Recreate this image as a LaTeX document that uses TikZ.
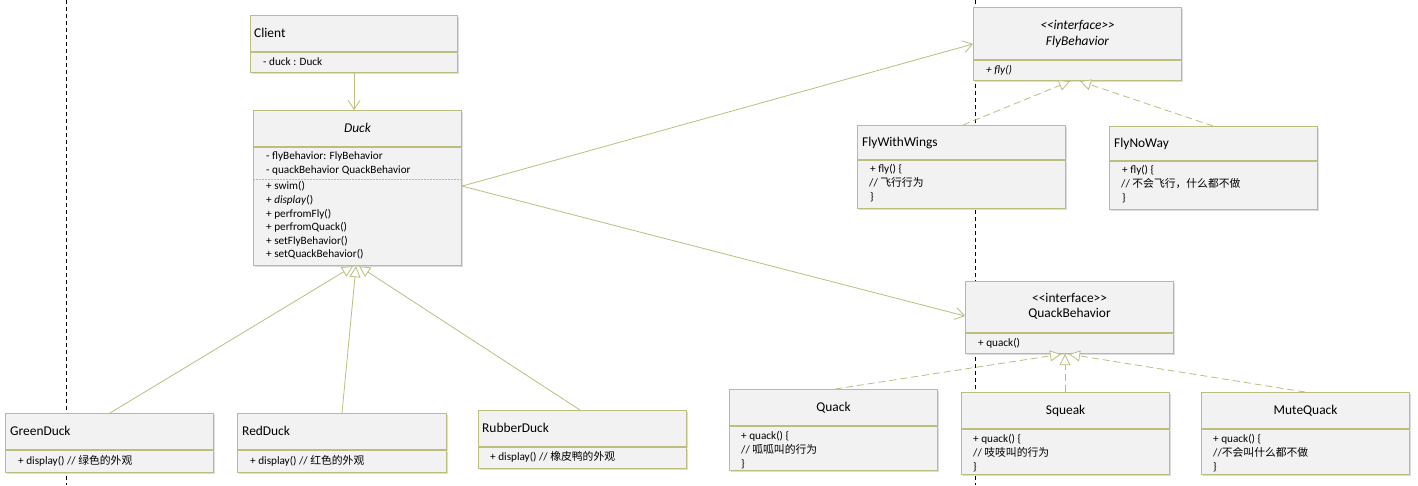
\documentclass[tikz,border=0pt]{standalone}
\usepackage{fontspec}
\setmainfont{Carlito}[Ligatures=TeXOff]
\newfontfamily\cjk{Noto Sans CJK SC}
\usetikzlibrary{arrows.meta,shadows,calc}
\definecolor{umlline}{RGB}{188,190,128}
\definecolor{umlfill}{RGB}{242,242,242}
\newcommand\hfont{\fontsize{13.4}{16}\selectfont}
\newcommand\bfont{\fontsize{11.2}{13.5}\selectfont}
\newcommand\zh[1]{{\cjk\fontsize{10.8}{13.5}\selectfont #1}}
\tikzset{
  umlbox/.style={draw=umlline, fill=umlfill, line width=1.1pt, inner sep=0pt, anchor=north west,
    drop shadow={shadow xshift=1.2pt, shadow yshift=-1.2pt, opacity=0.3, fill=black!45}},
  hdrtext/.style={inner sep=0pt, font=\hfont, text height=9.5pt, text depth=2.5pt},
  bodytext/.style={inner sep=0pt, font=\bfont, anchor=west, text height=8pt, text depth=2.5pt},
  assoc/.style={draw=umlline, line width=0.8pt, -{Straight Barb[length=9pt,width=12pt]}},
  inherit/.style={draw=umlline, line width=0.8pt, -{Triangle[open,length=11pt,width=11pt,fill=white]}},
  realize/.style={inherit, dash pattern=on 7pt off 4pt},
  lifeline/.style={draw=black, line width=0.6pt, dash pattern=on 4pt off 3pt},
  sepline/.style={draw=umlline, line width=0.6pt, dash pattern=on 1.5pt off 1.5pt},
}
% name, x, y, width, header height, body height
\newcommand\umlclass[6]{%
  \node[umlbox, minimum width=#4pt, minimum height=#5pt] (#1) at (#2,#3) {};
  \node[umlbox, minimum width=#4pt, minimum height=#6pt] (#1b) at (#1.south west) {};
}
\begin{document}
\begin{tikzpicture}[x=1pt,y=-1pt]
\fill[white] (0,0) rectangle (1418,485);
\useasboundingbox (0,0) rectangle (1418,485);

% life lines
\coordinate (l1t) at (66,0);
\coordinate (l1b) at (66,485);
\coordinate (l2t) at (975,0);
\coordinate (l2b) at (975,485);
\draw[lifeline] (l1t) -- (l1b);
\draw[lifeline] (l2t) -- (l2b);

% classes
\umlclass{client}{250}{15}{207}{36}{20}
\umlclass{duck}{253}{110}{208}{36}{118}
\umlclass{fly}{973}{7}{208}{52}{20}
\umlclass{fww}{857}{125}{208}{34}{48}
\umlclass{fnw}{1109}{126}{208}{34}{48}
\umlclass{qb}{965}{281}{208}{51}{20}
\umlclass{quack}{729}{389}{208}{36}{44}
\umlclass{squeak}{961}{392}{208}{36}{45}
\umlclass{mute}{1201}{392}{208}{36}{45}
\umlclass{gd}{5}{413}{208}{36}{22}
\umlclass{rd}{237}{413}{209}{36}{22}
\umlclass{rub}{478}{410}{208}{36}{21}

% Client
\node[hdrtext, anchor=west] (clientN) at ($(client.west)+(4,0)$) {Client};
\node[bodytext] (clientA) at ($(clientb.west)+(13,0)$) {- duck : Duck};

% Duck
\node[hdrtext] (duckN) at (duck.center) {\textit{Duck}};
\node[bodytext] (duckA1) at ($(duckb.north west)+(13,10)$) {- flyBehavior: FlyBehavior};
\node[bodytext] (duckA2) at ($(duckb.north west)+(13,23.5)$) {- quackBehavior QuackBehavior};
\draw[sepline] ($(duckb.north west)+(0,32)$) -- ($(duckb.north east)+(0,32)$);
\node[bodytext] (duckM1) at ($(duckb.north west)+(13,40)$) {+ swim()};
\node[bodytext] (duckM2) at ($(duckb.north west)+(13,53.7)$) {+ \textit{display}()};
\node[bodytext] (duckM3) at ($(duckb.north west)+(13,67.3)$) {+ perfromFly()};
\node[bodytext] (duckM4) at ($(duckb.north west)+(13,80.8)$) {+ perfromQuack()};
\node[bodytext] (duckM5) at ($(duckb.north west)+(13,94.2)$) {+ setFlyBehavior()};
\node[bodytext] (duckM6) at ($(duckb.north west)+(13,107.6)$) {+ setQuackBehavior()};

% FlyBehavior
\node[hdrtext] (flyS) at ($(fly.center)+(0,-8)$) {\textit{<<interface>>}};
\node[hdrtext] (flyN) at ($(fly.center)+(0,8)$) {\textit{FlyBehavior}};
\node[bodytext] (flyM) at ($(flyb.west)+(13,0)$) {\textit{+ fly()}};

% FlyWithWings
\node[hdrtext, anchor=west] (fwwN) at ($(fww.west)+(5,0)$) {FlyWithWings};
\node[bodytext] (fwwL1) at ($(fwwb.north west)+(13,10)$) {+ fly() \{};
\node[bodytext] (fwwL2) at ($(fwwb.north west)+(12,24)$) {// \zh{飞行行为}};
\node[bodytext] (fwwL3) at ($(fwwb.north west)+(13,38)$) {\}};

% FlyNoWay
\node[hdrtext, anchor=west] (fnwN) at ($(fnw.west)+(5,0)$) {FlyNoWay};
\node[bodytext] (fnwL1) at ($(fnwb.north west)+(13,10)$) {+ fly() \{};
\node[bodytext] (fnwL2) at ($(fnwb.north west)+(12,24)$) {// \zh{不会飞行，什么都不做}};
\node[bodytext] (fnwL3) at ($(fnwb.north west)+(13,38)$) {\}};

% QuackBehavior
\node[hdrtext] (qbS) at ($(qb.center)+(0,-8)$) {<<interface>>};
\node[hdrtext] (qbN) at ($(qb.center)+(0,7)$) {QuackBehavior};
\node[bodytext] (qbM) at ($(qbb.west)+(13,0)$) {+ quack()};

% Quack
\node[hdrtext] (quackN) at (quack.center) {Quack};
\node[bodytext] (quackL1) at ($(quackb.north west)+(12,11)$) {+ quack() \{};
\node[bodytext] (quackL2) at ($(quackb.north west)+(12,25)$) {// \zh{呱呱叫的行为}};
\node[bodytext] (quackL3) at ($(quackb.north west)+(12,38.5)$) {\}};

% Squeak
\node[hdrtext] (squeakN) at (squeak.center) {Squeak};
\node[bodytext] (squeakL1) at ($(squeakb.north west)+(12,11)$) {+ quack() \{};
\node[bodytext] (squeakL2) at ($(squeakb.north west)+(12,25)$) {// \zh{吱吱叫的行为}};
\node[bodytext] (squeakL3) at ($(squeakb.north west)+(12,38.5)$) {\}};

% MuteQuack
\node[hdrtext] (muteN) at (mute.center) {MuteQuack};
\node[bodytext] (muteL1) at ($(muteb.north west)+(12,11)$) {+ quack() \{};
\node[bodytext] (muteL2) at ($(muteb.north west)+(12,25)$) {//\zh{不会叫什么都不做}};
\node[bodytext] (muteL3) at ($(muteb.north west)+(12,38.5)$) {\}};

% Ducks
\node[hdrtext, anchor=west] (gdN) at ($(gd.west)+(5,0)$) {GreenDuck};
\node[bodytext] (gdM) at ($(gdb.west)+(13,0)$) {+ display() // \zh{绿色的外观}};
\node[hdrtext, anchor=west] (rdN) at ($(rd.west)+(5,0)$) {RedDuck};
\node[bodytext] (rdM) at ($(rdb.west)+(13,0)$) {+ display() // \zh{红色的外观}};
\node[hdrtext, anchor=west] (rubN) at ($(rub.west)+(4,0)$) {RubberDuck};
\node[bodytext] (rubM) at ($(rubb.west)+(12,0)$) {+ display() // \zh{橡皮鸭的外观}};

% associations
\draw[assoc] (clientb.south) -- (clientb.south |- duck.north);
\draw[assoc] ($(duckb.north east)+(0,39)$) -- ($(fly.north west)+(0,37)$);
\draw[assoc] ($(duckb.north east)+(0,39)$) -- ($(qb.north west)+(0,35)$);

% generalizations
\draw[inherit] ($(gd.north west)+(105,0)$) -- ($(duckb.south west)+(100,0)$);
\draw[inherit] ($(rd.north west)+(105,0)$) -- ($(duckb.south west)+(103,0)$);
\draw[inherit] ($(rub.north west)+(102,0)$) -- ($(duckb.south west)+(106,0)$);

% realizations
\draw[realize] ($(fww.north west)+(106,0)$) -- ($(flyb.south west)+(97,0)$);
\draw[realize] ($(fnw.north west)+(104,0)$) -- ($(flyb.south west)+(107,0)$);
\draw[realize] ($(quack.north west)+(106,0)$) -- ($(qbb.south west)+(96,0)$);
\draw[realize] ($(squeak.north west)+(104,0)$) -- ($(qbb.south west)+(100,0)$);
\draw[realize] ($(mute.north west)+(104,0)$) -- ($(qbb.south west)+(104,0)$);
\end{tikzpicture}
\end{document}
